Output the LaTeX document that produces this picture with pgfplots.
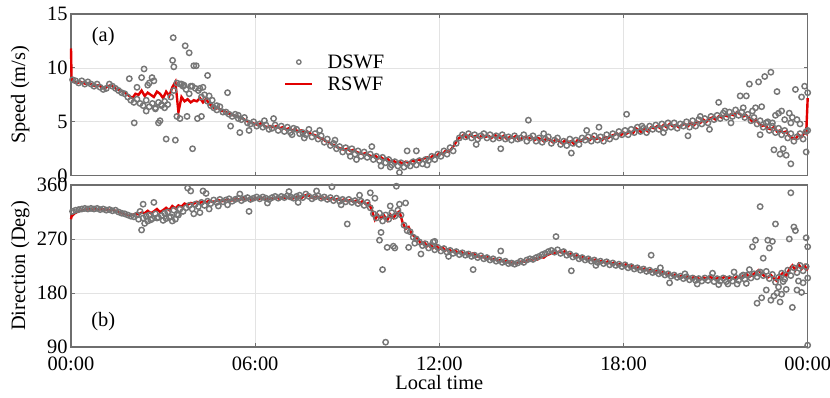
\documentclass[border=0pt]{standalone}
\usepackage{fontspec}
\setmainfont{Liberation Serif}
\usepackage{pgfplots}
\usepackage{pgfplotstable}
\pgfplotsset{compat=1.18}
\definecolor{rline}{RGB}{225,0,0}
\definecolor{dgray}{RGB}{118,118,118}
\definecolor{axgray}{RGB}{110,110,110}

% RSWF (line): t speed direction
\pgfplotstableread{
t s d
0.0 11.8 303
0.02 8.8 308
0.1 8.7 312
0.2 8.6 315
0.3 8.7 317
0.4 8.6 318
0.5 8.5 319
0.6 8.6 320
0.7 8.4 319
0.8 8.3 320
0.9 8.4 319
1.0 8.2 320
1.1 8.1 319
1.2 8.3 318
1.3 8.4 319
1.4 8.2 318
1.5 8.0 316
1.6 7.9 314
1.7 7.8 312
1.8 7.6 311
1.9 7.4 309
2.0 7.2 310
2.1 7.6 312
2.2 7.5 311
2.3 7.9 314
2.4 7.4 313
2.5 7.7 317
2.6 7.5 313
2.7 7.3 316
2.8 7.8 320
2.9 7.6 315
3.0 7.2 318
3.1 7.8 322
3.2 7.4 318
3.3 8.2 325
3.4 8.7 321
3.5 5.9 326
3.6 7.3 324
3.7 6.9 329
3.8 7.1 327
3.9 6.8 330
4.0 7.0 329
4.1 6.9 332
4.2 7.2 330
4.3 6.8 333
4.4 7.1 331
4.5 6.7 334
4.6 6.4 332
4.7 6.2 333
4.8 6.3 335
4.9 6.0 333
5.0 6.0 334
5.1 5.8 336
5.2 5.7 334
5.3 5.6 335
5.4 5.5 337
5.5 5.4 335
5.6 5.3 338
5.7 5.1 336
5.8 5.0 337
5.9 4.9 335
6.0 4.8 338
6.1 4.7 336
6.2 4.9 339
6.3 4.6 337
6.4 4.5 336
6.5 4.6 338
6.6 4.5 337
6.7 4.6 339
6.8 4.4 337
6.9 4.5 340
7.0 4.3 338
7.1 4.4 339
7.2 4.2 337
7.3 4.3 339
7.4 4.1 341
7.5 4.2 338
7.6 4.0 342
7.7 4.1 344
7.8 3.9 340
7.9 3.8 338
8.0 3.7 341
8.1 3.5 339
8.2 3.4 337
8.3 3.2 339
8.4 3.1 336
8.5 2.9 338
8.6 2.8 335
8.7 2.6 337
8.8 2.5 334
8.9 2.4 336
9.0 2.5 333
9.1 2.3 335
9.2 2.4 332
9.3 2.2 334
9.4 2.1 330
9.5 2.0 333
9.6 2.1 328
9.7 1.9 330
9.8 1.8 318
9.9 1.9 302
10.0 1.6 310
10.1 1.7 304
10.2 1.5 309
10.3 1.6 301
10.4 1.3 311
10.5 1.4 305
10.6 1.2 312
10.7 1.3 316
10.8 1.1 298
10.9 1.3 287
11.0 1.2 290
11.1 1.4 278
11.2 1.3 274
11.3 1.5 270
11.4 1.4 262
11.5 1.6 265
11.6 1.7 258
11.7 1.6 262
11.8 1.9 255
11.9 1.8 259
12.0 2.1 253
12.1 2.0 256
12.2 2.3 251
12.3 2.2 253
12.4 2.5 249
12.5 2.9 251
12.6 3.4 247
12.7 3.6 249
12.8 3.8 245
12.9 3.5 247
13.0 3.8 244
13.1 3.6 246
13.2 3.7 242
13.3 3.5 240
13.4 3.8 241
13.5 3.6 238
13.6 3.7 240
13.7 3.5 236
13.8 3.8 237
13.9 3.6 234
14.0 3.5 235
14.1 3.7 232
14.2 3.4 234
14.3 3.6 230
14.4 3.5 231
14.5 3.7 229
14.6 3.3 231
14.7 3.5 233
14.8 3.6 232
14.9 3.4 236
15.0 3.6 234
15.1 3.3 238
15.2 3.5 236
15.3 3.4 240
15.4 3.2 239
15.5 3.5 243
15.6 3.3 245
15.7 3.1 248
15.8 3.4 246
15.9 3.2 249
16.0 3.0 247
16.1 3.3 250
16.2 3.1 244
16.3 3.2 246
16.4 2.9 241
16.5 3.3 243
16.6 3.2 238
16.7 3.4 240
16.8 3.5 236
16.9 3.3 238
17.0 3.6 234
17.1 3.4 236
17.2 3.5 232
17.3 3.3 234
17.4 3.6 230
17.5 3.5 233
17.6 3.7 228
17.7 3.8 231
17.8 3.9 227
17.9 3.7 229
18.0 4.0 226
18.1 3.9 228
18.2 4.1 223
18.3 3.9 225
18.4 4.4 221
18.5 4.2 223
18.6 4.0 219
18.7 4.3 221
18.8 4.1 217
18.9 4.5 219
19.0 4.4 215
19.1 4.6 217
19.2 4.4 213
19.3 4.7 215
19.4 4.5 211
19.5 4.8 213
19.6 4.6 209
19.7 4.7 211
19.8 4.5 207
19.9 4.7 209
20.0 4.8 206
20.1 4.6 208
20.2 4.9 204
20.3 4.7 207
20.4 5.0 205
20.5 4.9 203
20.6 5.2 206
20.7 5.0 204
20.8 5.3 207
20.9 5.4 205
21.0 5.2 203
21.1 5.5 206
21.2 5.4 204
21.3 5.6 207
21.4 5.5 205
21.5 5.7 206
21.6 5.6 204
21.7 5.9 207
21.8 5.7 205
21.9 5.5 208
22.0 5.6 212
22.1 5.3 207
22.2 5.0 210
22.3 5.2 214
22.4 4.9 218
22.5 4.6 212
22.6 4.7 208
22.7 4.4 206
22.8 4.3 210
22.9 4.5 204
23.0 4.1 200
23.1 4.2 209
23.2 4.0 214
23.3 4.1 208
23.4 3.7 220
23.5 3.5 226
23.6 3.4 218
23.7 3.8 228
23.8 3.6 220
23.9 4.0 226
23.95 3.9 221
24.0 7.2 218
}\rswf

% DSWF (circles): t speed direction
\pgfplotstableread{
t s d
0.05 8.9 316
0.15 8.8 318
0.25 8.6 319
0.35 8.8 320
0.45 8.5 321
0.55 8.7 320
0.65 8.5 321
0.75 8.3 320
0.85 8.5 321
0.95 8.2 319
1.05 8.0 320
1.15 8.1 318
1.25 8.5 319
1.35 8.3 317
1.45 8.1 318
1.55 7.9 315
1.65 7.7 313
1.75 7.6 312
1.85 7.3 310
1.95 7.0 308
2.05 6.8 307
2.15 7.1 310
2.25 6.7 316
2.35 6.5 305
2.45 7.0 308
2.55 6.4 310
2.65 6.7 304
2.75 6.2 312
2.85 6.8 306
2.95 6.5 309
3.05 6.9 313
3.15 6.6 315
3.25 7.3 307
3.35 7.9 318
3.45 8.6 311
3.55 8.5 320
3.65 8.3 316
3.75 8.0 322
3.85 7.6 326
3.95 8.3 320
4.05 8.1 328
4.15 7.9 324
4.25 7.3 331
4.35 7.5 326
4.45 6.9 333
4.55 6.5 329
4.65 6.3 335
4.75 6.1 331
4.85 6.4 336
4.95 5.9 332
5.05 5.9 335
5.15 5.7 337
5.25 5.5 333
5.35 5.7 336
5.45 5.3 338
5.55 5.2 334
5.65 5.4 337
5.75 4.9 339
5.85 4.8 336
5.95 5.0 338
6.05 4.6 340
6.15 4.8 337
6.25 4.5 340
6.35 4.7 338
6.45 4.3 336
6.55 4.4 339
6.65 4.7 341
6.75 4.2 338
6.85 4.6 341
6.95 4.1 339
7.05 4.5 342
7.15 4.0 340
7.25 4.4 338
7.35 4.3 341
7.45 3.9 343
7.55 4.0 339
7.65 3.8 345
7.75 4.3 341
7.85 3.6 337
7.95 3.9 340
8.05 3.4 342
8.15 3.7 338
8.25 3.1 340
8.35 3.4 336
8.45 2.8 339
8.55 3.0 334
8.65 2.5 338
8.75 2.7 333
8.85 2.2 336
8.95 2.6 332
9.05 2.2 336
9.15 2.5 331
9.25 2.0 334
9.35 2.3 329
9.45 1.8 333
9.55 2.2 326
9.65 1.7 331
9.75 2.0 322
9.85 1.5 312
9.95 1.8 305
10.05 1.4 313
10.15 1.7 300
10.25 1.2 310
10.35 1.5 303
10.45 1.0 314
10.55 1.3 308
10.65 0.9 318
10.75 1.2 310
10.85 0.8 293
10.95 1.1 284
11.05 0.9 282
11.15 1.3 273
11.25 1.0 270
11.35 1.4 265
11.45 1.1 259
11.55 1.5 262
11.65 1.4 255
11.75 1.8 259
11.85 1.5 252
11.95 2.0 256
12.05 1.8 250
12.15 2.3 254
12.25 2.0 248
12.35 2.6 251
12.45 2.3 246
12.55 3.0 249
12.65 3.5 244
12.75 3.8 247
12.85 3.6 243
12.95 3.9 245
13.05 3.5 241
13.15 3.8 243
13.25 3.4 239
13.35 3.7 242
13.45 3.9 237
13.55 3.5 239
13.65 3.8 235
13.75 3.4 237
13.85 3.7 233
13.95 3.5 235
14.05 3.8 231
14.15 3.4 233
14.25 3.6 229
14.35 3.3 230
14.45 3.7 228
14.55 3.4 230
14.65 3.5 233
14.75 3.8 231
14.85 3.2 235
14.95 3.5 237
15.05 3.7 236
15.15 3.2 239
15.25 3.5 241
15.35 3.1 244
15.45 3.4 246
15.55 3.6 249
15.65 3.0 251
15.75 3.3 248
15.85 3.5 252
15.95 2.9 246
16.05 3.2 249
16.15 2.8 243
16.25 3.4 245
16.35 3.0 240
16.45 3.3 242
16.55 2.9 237
16.65 3.5 239
16.75 3.3 235
16.85 3.6 237
16.95 3.2 233
17.05 3.7 235
17.15 3.3 231
17.25 3.6 233
17.35 3.2 229
17.45 3.8 232
17.55 3.4 227
17.65 3.9 230
17.75 3.6 226
17.85 4.1 228
17.95 3.8 224
18.05 4.2 227
18.15 3.8 222
18.25 4.3 224
18.35 4.0 220
18.45 4.5 222
18.55 4.1 218
18.65 4.4 220
18.75 4.0 216
18.85 4.6 218
18.95 4.3 214
19.05 4.7 216
19.15 4.3 212
19.25 4.8 214
19.35 4.4 210
19.45 4.9 212
19.55 4.5 208
19.65 4.9 210
19.75 4.4 206
19.85 4.8 208
19.95 4.6 204
20.05 5.0 207
20.15 4.5 202
20.25 5.1 205
20.35 4.6 201
20.45 5.2 204
20.55 4.8 200
20.65 5.3 205
20.75 4.9 201
20.85 5.5 206
20.95 5.2 199
21.05 5.6 204
21.15 5.3 200
21.25 5.8 205
21.35 5.4 199
21.45 5.9 204
21.55 5.5 200
21.65 6.1 206
21.75 5.6 201
21.85 5.9 208
21.95 5.4 203
22.05 5.7 210
22.15 5.1 205
22.25 5.4 212
22.35 4.8 207
22.45 5.1 215
22.55 4.5 209
22.65 4.9 216
22.75 4.2 204
22.85 4.6 211
22.95 4.0 198
23.05 4.4 206
23.15 3.8 213
23.25 4.2 203
23.35 3.5 218
23.45 3.9 209
23.55 3.2 222
23.65 3.6 214
23.75 3.9 226
23.85 3.4 217
23.95 4.1 224
}\dswf

\pgfplotsset{
  myax/.style={
    scale only axis, width=736.7bp,
    xmin=0, xmax=24, xtick={0,6,12,18,24},
    grid=major, major grid style={gray!22, line width=0.6bp},
    axis line style={axgray, line width=1.1bp},
    tick align=inside, major tick length=4bp,
    tick style={axgray, line width=0.8bp},
    ticklabel style={font=\fontsize{20.5}{24}\selectfont},
    label style={font=\fontsize{20.5}{24}\selectfont},
    xticklabel style={yshift=-6bp},
    /pgf/number format/assume math mode=true,
    ylabel style={at={([xshift=-38bp]axis description cs:0,0.5)}, anchor=south},
    clip=false,
  },
  dots/.style={only marks, mark=o, mark size=2.7bp, dgray, mark options={line width=1.45bp}},
  rl/.style={rline, line width=2.4bp, no marks},
}

\begin{document}
\begin{tikzpicture}
\useasboundingbox (-71bp,-51bp) rectangle (759bp,347bp);
% ---------- top: speed ----------
\begin{axis}[myax, at={(0,171.3bp)}, anchor=south west, height=161.7bp,
  ymin=0, ymax=15, ytick={0,5,10,15}, xticklabels={},
  ylabel={Speed (m/s)},
  legend cell align=left,
  legend style={draw=none, fill=none, at={(axis description cs:0.285,0.775)}, anchor=north west,
    font=\fontsize{20.5}{22}\selectfont, row sep=3bp, column sep=12bp}]
\addlegendimage{only marks, mark=o, mark size=2.2bp, dgray, mark options={line width=1.3bp},
  legend image code/.code={\draw[mark repeat=2,mark phase=2] plot coordinates {(0bp,0bp) (13.5bp,0bp) (27bp,0bp)};}}
\addlegendentry{DSWF}
\addlegendimage{rl, legend image code/.code={\draw (0bp,0bp) -- (27bp,0bp);}}
\addlegendentry{RSWF}
\addplot[dots, forget plot] table[x=t, y=s] {\dswf};
\addplot[dots, forget plot] coordinates {
(1.9,9.0)(2.06,4.9)(2.15,8.2)(2.3,9.1)(2.38,9.9)(2.45,6.0)(2.5,8.4)(2.55,8.6)(2.64,9.1)(2.7,8.8)
(2.75,6.3)(2.85,4.9)(2.9,5.1)(2.95,6.6)(3.1,3.4)(3.05,6.3)(3.33,12.8)(3.31,10.7)(3.35,10.1)(3.4,3.3)
(3.45,5.5)(3.55,5.3)(3.6,8.5)(3.68,8.4)(3.72,12.05)(3.78,5.5)(3.85,11.4)(3.9,8.3)(3.96,2.5)(4.0,10.2)
(4.08,10.2)(4.12,5.3)(4.2,8.1)(4.25,5.5)(4.3,8.2)(4.45,9.3)(4.5,7.4)(4.6,7.0)(4.75,6.5)(5.1,7.7)
(5.2,4.6)(5.5,4.0)(5.45,5.6)(5.8,4.2)(6.3,5.1)(6.6,5.3)(7.2,3.8)(7.6,3.5)(8.1,4.2)(8.6,3.3)
(9.1,1.8)(9.3,1.5)(9.8,2.7)(10.1,0.9)(10.4,0.8)(10.7,0.3)(10.95,2.3)(11.25,2.3)(11.6,1.0)(13.2,2.9)
(14.0,2.5)(14.9,5.15)(15.4,3.9)(16.3,2.1)(16.8,4.2)(17.2,4.5)(18.1,5.7)(18.6,4.6)(19.3,4.0)(20.1,3.7)
(20.5,5.5)(20.8,4.3)(21.1,6.8)(21.3,6.0)(21.5,4.9)(21.8,7.4)(21.9,6.3)(22.0,7.4)(22.1,8.5)(22.2,6.0)
(22.3,6.3)(22.4,8.7)(22.45,3.8)(22.5,6.4)(22.6,9.2)(22.7,5.0)(22.8,9.6)(22.85,4.9)(22.9,2.4)(22.95,5.6)
(23.0,7.8)(23.05,5.8)(23.1,2.0)(23.15,6.0)(23.2,2.5)(23.25,5.2)(23.3,1.9)(23.45,1.1)(23.4,5.8)(23.45,4.9)
(23.5,5.4)(23.6,8.0)(23.65,5.2)(23.75,4.8)(23.8,7.3)(23.9,8.3)(23.95,2.2)(24.0,7.7)(24.0,4.2)
};
\addplot[rl, forget plot] table[x=t, y=s] {\rswf};
\node[font=\fontsize{20.5}{22}\selectfont] at (axis cs:1.05,12.9) {(a)};
\end{axis}
% ---------- bottom: direction ----------
\begin{axis}[myax, at={(0,0)}, anchor=south west, height=162bp,
  ymin=90, ymax=360, ytick={90,180,270,360},
  xticklabels={00:00,06:00,12:00,18:00,00:00},
  xlabel={Local time}, ylabel={Direction (Deg)},
  xlabel style={yshift=2bp}]
\addplot[dots] table[x=t, y=d] {\dswf};
\addplot[dots] coordinates {
(2.2,303)(2.3,285)(2.35,328)(2.4,296)(2.5,300)(2.6,302)(2.7,331)(2.8,305)(3.0,301)(3.1,304)
(3.2,306)(3.3,300)(3.4,303)(3.5,310)(3.8,355)(3.9,350)(4.0,312)(4.2,314)(4.3,350)(4.4,346)
(4.5,320)(4.8,325)(5.1,327)(5.5,345)(5.8,316)(6.4,330)(7.1,349)(7.4,331)(8.0,350)(8.5,357)
(8.8,327)(9.0,295)(9.4,343)(9.75,347)(9.9,338)(10.05,268)(10.1,281)(10.15,219)(10.25,98)(10.3,256)
(10.4,325)(10.5,258)(10.55,255)(10.6,358)(10.7,328)(10.9,330)(11.0,256)(11.2,263)(11.4,245)(11.8,265)
(11.85,266)(12.3,241)(13.1,219)(14.0,250)(15.8,274)(16.3,217)(17.1,226)(18.9,243)(19.2,222)(19.5,197)
(20.0,212)(20.4,195)(20.9,213)(21.1,194)(21.4,195)(21.6,215)(21.7,195)(21.9,210)(22.0,196)(22.1,219)
(22.2,257)(22.3,268)(22.35,163)(22.4,213)(22.45,324)(22.5,172)(22.55,238)(22.65,185)(22.7,268)(22.75,255)
(22.8,168)(22.85,266)(22.9,175)(22.95,295)(23.0,180)(23.05,190)(23.1,165)(23.15,178)(23.2,199)(23.3,186)
(23.4,270)(23.45,347)(23.5,156)(23.55,290)(23.6,284)(23.65,185)(23.7,200)(23.8,181)(23.85,197)(23.95,272)
(24.0,257)(24.0,93)(24.0,205)
};
\addplot[rl] table[x=t, y=d] {\rswf};
\node[font=\fontsize{20.5}{22}\selectfont] at (axis cs:1.05,132) {(b)};
\end{axis}
\end{tikzpicture}
\end{document}
